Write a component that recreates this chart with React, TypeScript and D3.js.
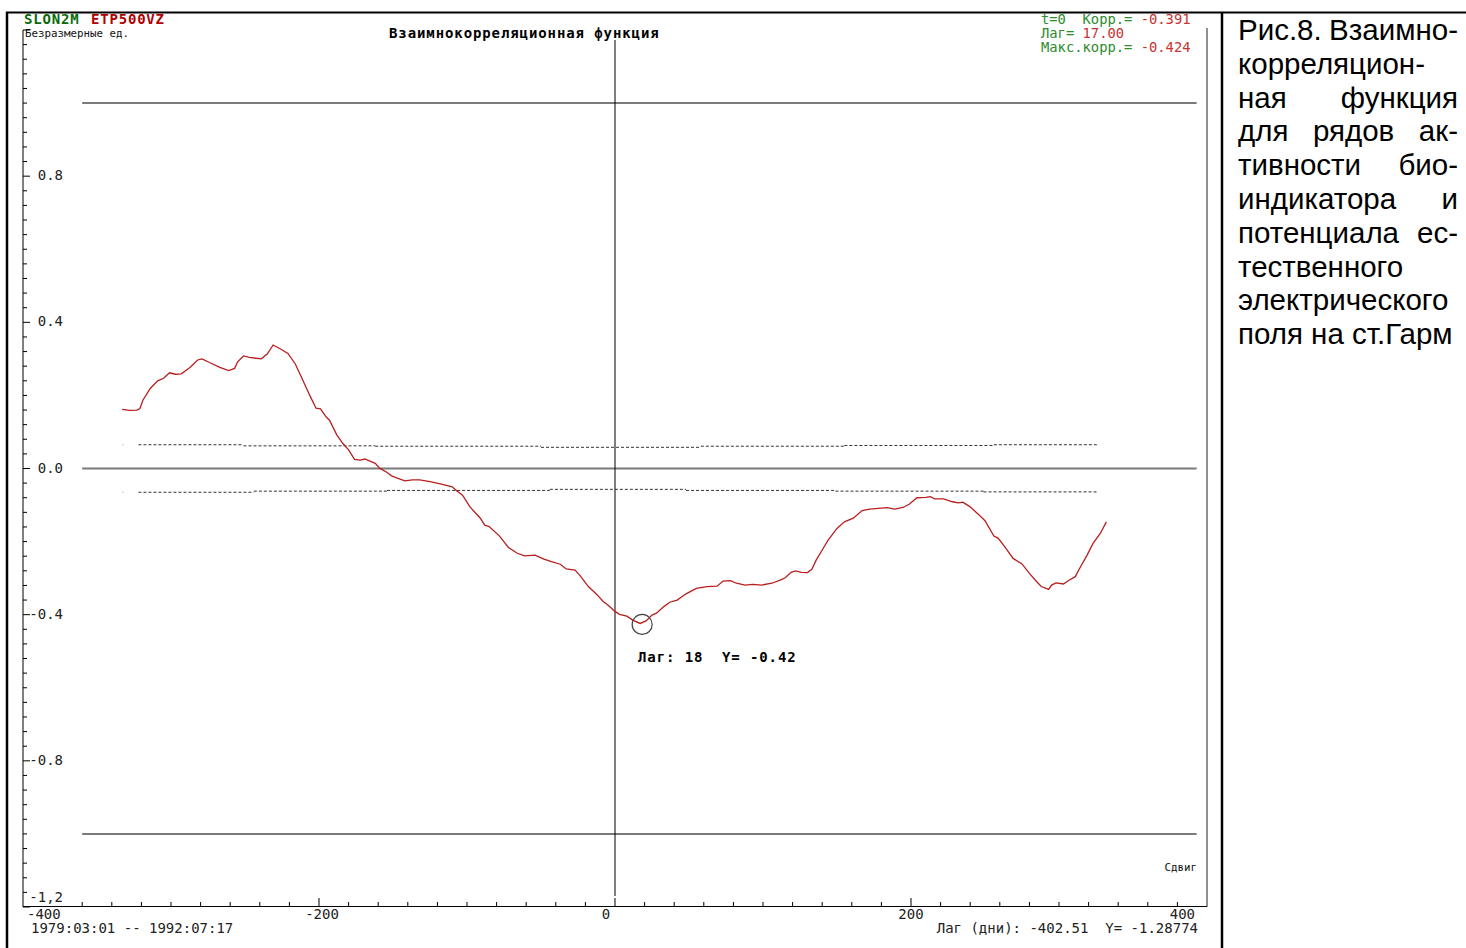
import * as d3 from "d3";
import React, { useMemo } from "react";

// cross-correlation curve (lag in days, value)
const lags = [-333, -328, -323, -321, -319, -314, -309, -305, -301, -297, -293, -287, -282, -279, -274, -267, -261, -257, -255, -251, -247, -239, -235, -231, -226, -221, -216, -212, -206, -202, -199, -195, -193, -188, -184, -180, -176, -172, -169, -166, -162, -159, -154, -151, -148, -142, -137, -132, -125, -118, -110, -107, -103, -98, -91, -88, -85, -78, -72, -66, -61, -54, -48, -43, -37, -33, -27, -24, -18, -12, -8, -5, 0, 3, 8, 12, 17, 21, 25, 28, 33, 37, 42, 48, 55, 62, 69, 73, 78, 82, 88, 93, 99, 106, 112, 115, 119, 122, 126, 130, 133, 136, 140, 144, 150, 155, 161, 167, 172, 178, 184, 189, 195, 199, 204, 210, 213, 216, 222, 228, 232, 235, 240, 246, 250, 256, 259, 264, 269, 275, 280, 285, 288, 293, 295, 298, 303, 307, 311, 314, 319, 323, 328, 332];
const corr = [0.162, 0.159, 0.16, 0.164, 0.187, 0.219, 0.24, 0.247, 0.262, 0.258, 0.259, 0.277, 0.297, 0.3, 0.29, 0.277, 0.268, 0.274, 0.292, 0.308, 0.304, 0.3, 0.313, 0.338, 0.327, 0.315, 0.286, 0.251, 0.198, 0.165, 0.163, 0.14, 0.133, 0.092, 0.069, 0.051, 0.025, 0.023, 0.026, 0.021, 0.014, 0.001, -0.011, -0.02, -0.025, -0.034, -0.031, -0.031, -0.036, -0.042, -0.05, -0.061, -0.073, -0.105, -0.136, -0.155, -0.159, -0.185, -0.216, -0.232, -0.239, -0.237, -0.248, -0.255, -0.262, -0.275, -0.278, -0.291, -0.323, -0.346, -0.364, -0.373, -0.391, -0.399, -0.404, -0.415, -0.424, -0.417, -0.401, -0.396, -0.378, -0.366, -0.36, -0.343, -0.328, -0.323, -0.322, -0.308, -0.307, -0.314, -0.319, -0.317, -0.319, -0.314, -0.305, -0.299, -0.284, -0.28, -0.284, -0.285, -0.276, -0.25, -0.223, -0.196, -0.164, -0.146, -0.136, -0.115, -0.111, -0.109, -0.107, -0.111, -0.106, -0.097, -0.08, -0.079, -0.077, -0.083, -0.083, -0.091, -0.094, -0.092, -0.105, -0.127, -0.143, -0.185, -0.191, -0.218, -0.246, -0.261, -0.287, -0.31, -0.323, -0.331, -0.319, -0.313, -0.316, -0.305, -0.296, -0.273, -0.237, -0.205, -0.177, -0.146];

// significance bounds (stepwise)
const upperBreaks = [-322, -251, -162, -50, 58, 155, 256, 326];
const upperLevels = [0.065, 0.062, 0.061, 0.058, 0.061, 0.063, 0.065];
const lowerBreaks = [-322, -244, -154, -44, 48, 149, 249, 326];
const lowerLevels = [-0.065, -0.062, -0.06, -0.057, -0.06, -0.062, -0.064];
const boundDotLag = -333;

// reference lines
const refLevels = [1, 0, -1];
const refSpan = [-360, 393];

const yTickLabels = ["0.8", "0.4", "0.0", "-0.4", "-0.8", "-1,2"];
const yTickValues = [0.8, 0.4, 0, -0.4, -0.8, -1.2];
const xTickLabels = ["-400", "-200", "0", "200", "400"];

const markerLag = 17;
const markerValue = -0.424;

const captionLines = [
  "Рис.8. Взаимно-",
  "корреляцион-",
  "ная функция",
  "для рядов ак-",
  "тивности био-",
  "индикатора и",
  "потенциала ес-",
  "тественного",
  "электрического",
  "поля на ст.Гарм",
];

const MONO = "'DejaVu Sans Mono', monospace";
const CAPTION_FONT = "29.5px 'Liberation Sans'";
const PRE = { whiteSpace: "pre" as const };

export default function App() {
  const x = d3.scaleLinear().domain([-400, 400]).range([23, 1207]);
  const y = d3.scaleLinear().domain([-1.2, 1.2]).range([907, 30]);

  const pts = lags.map((l, i) => [l, corr[i]] as [number, number]);
  const line = d3.line<[number, number]>().x(d => x(d[0])).y(d => y(d[1]));

  const xMinor = d3.range(-360, 381, 20);
  const yMinor = d3.range(-30, 31).map(k => k * 0.04);

  const steps = (breaks: number[], levels: number[]) =>
    levels.map((v, i) => ({ x1: x(breaks[i]), x2: x(breaks[i + 1]), y: y(v) }));

  const caption = useMemo(() => {
    const ctx = document.createElement("canvas").getContext("2d")!;
    ctx.font = CAPTION_FONT;
    const left = 1238, right = 1458;
    return captionLines.map((ln, i) => {
      const words = ln.split(" ");
      const last = i === captionLines.length - 1;
      if (words.length < 2 || last) return [{ t: ln, x: left }];
      const ws = words.map(w => ctx.measureText(w).width);
      const gap = (right - left - d3.sum(ws)) / (words.length - 1);
      let cx = left;
      return words.map((w, j) => {
        const o = { t: w, x: cx };
        cx += ws[j] + gap;
        return o;
      });
    });
  }, []);

  return (
    <svg width={1466} height={948} style={{ position: "absolute", left: 0, top: 0, background: "#fff" }}>
      {/* frame */}
      <line x1={6} x2={1466} y1={12.5} y2={12.5} stroke="#000" strokeWidth={2} />
      <line x1={7} x2={7} y1={12} y2={948} stroke="#000" strokeWidth={2.5} />
      <line x1={1222} x2={1222} y1={12} y2={948} stroke="#000" strokeWidth={2.5} />

      {/* header */}
      <text x={24} y={23.5} fontFamily={MONO} fontSize={14} fontWeight="bold" letterSpacing={0.8} fill="#0a6a0a">SLON2M</text>
      <text x={91} y={23.5} fontFamily={MONO} fontSize={14} fontWeight="bold" letterSpacing={0.8} fill="#b00000">ETP500VZ</text>
      <text x={25} y={37} fontFamily={MONO} fontSize={10.8} fill="#111">Безразмерные ед.</text>
      <text x={389} y={38} fontFamily={MONO} fontSize={14} fontWeight="bold" letterSpacing={0.9} fill="#000">Взаимнокорреляционная функция</text>

      <g fontFamily={MONO} fontSize={13.8}>
        <text x={1041} y={23.5} fill="#2e8b2e" style={PRE} xmlSpace="preserve">{"t=0  Корр.= "}<tspan fill="#c83232">-0.391</tspan></text>
        <text x={1041} y={37.5} fill="#2e8b2e" style={PRE} xmlSpace="preserve">{"Лаг= "}<tspan fill="#c83232">17.00</tspan></text>
        <text x={1041} y={52} fill="#2e8b2e" style={PRE} xmlSpace="preserve">{"Макс.корр.= "}<tspan fill="#c83232">-0.424</tspan></text>
      </g>

      {/* plot borders and axes */}
      <line x1={23} x2={23} y1={y(1.2)} y2={y(-1.2)} stroke="#000" />
      <line x1={23} x2={1207} y1={y(-1.2) - 0.5} y2={y(-1.2) - 0.5} stroke="#000" />
      <line x1={1207} x2={1207} y1={28} y2={y(-1.2)} stroke="#222" />

      {yMinor.map((v, i) => {
        const major = Math.abs(Math.round(v * 100) % 40) === 0;
        return <line key={i} x1={23} x2={major ? 30 : 27} y1={y(v)} y2={y(v)} stroke="#000" />;
      })}
      {yTickValues.map((v, i) => (
        <text key={i} x={63} y={v === -1.2 ? 902 : y(v) + 4} textAnchor="end" fontFamily={MONO} fontSize={14} fill="#222">
          {yTickLabels[i]}
        </text>
      ))}

      {xMinor.map(v => {
        const major = v % 200 === 0;
        return <line key={v} x1={x(v)} x2={x(v)} y1={y(-1.2)} y2={y(-1.2) - (major ? 9 : 5)} stroke="#000" />;
      })}
      <g fontFamily={MONO} fontSize={14} fill="#222">
        <text x={27} y={919}>{xTickLabels[0]}</text>
        <text x={x(-200) + 3} y={919} textAnchor="middle">{xTickLabels[1]}</text>
        <text x={x(0) - 9} y={919} textAnchor="middle">{xTickLabels[2]}</text>
        <text x={x(200)} y={919} textAnchor="middle">{xTickLabels[3]}</text>
        <text x={1195} y={919} textAnchor="end">{xTickLabels[4]}</text>
        <text x={31} y={933} style={PRE} xmlSpace="preserve">1979:03:01 -- 1992:07:17</text>
        <text x={1198} y={933} textAnchor="end" style={PRE} xmlSpace="preserve">{"Лаг (дни): -402.51  Y= -1.28774"}</text>
      </g>
      <text x={1197} y={871} textAnchor="end" fontFamily={MONO} fontSize={10.8} fill="#111">Сдвиг</text>

      {/* reference lines */}
      {refLevels.map(v => (
        <line key={v} x1={x(refSpan[0])} x2={x(refSpan[1])} y1={y(v)} y2={y(v)} stroke="#7a7a7a" strokeWidth={2} />
      ))}
      <line x1={x(0)} x2={x(0)} y1={40} y2={896} stroke="#000" />

      {/* confidence bounds */}
      {[...steps(upperBreaks, upperLevels), ...steps(lowerBreaks, lowerLevels)].map((s, i) => (
        <line key={i} x1={s.x1} x2={s.x2} y1={s.y} y2={s.y} stroke="#333" strokeWidth={1} strokeDasharray="3 2" />
      ))}
      {[upperLevels[0], lowerLevels[0]].map((v, i) => (
        <rect key={i} x={x(boundDotLag)} y={y(v) - 0.5} width={1.5} height={1} fill="#bbb" />
      ))}

      {/* curve */}
      <path d={line(pts) ?? ""} fill="none" stroke="#b81e1e" strokeWidth={1.3} />

      {/* marker */}
      <circle cx={x(markerLag) + 2} cy={y(markerValue) + 1} r={10} fill="none" stroke="#444" strokeWidth={1.2} />
      <text x={638} y={662} fontFamily={MONO} fontSize={14} fontWeight="bold" letterSpacing={0.9} fill="#000" style={PRE} xmlSpace="preserve">{"Лаг: 18  Y= -0.42"}</text>

      {/* caption */}
      {caption.map((ws, i) =>
        ws.map((w, j) => (
          <text key={`${i}-${j}`} x={w.x} y={40 + i * 33.8} style={{ font: CAPTION_FONT }} fill="#000">{w.t}</text>
        ))
      )}
    </svg>
  );
}
